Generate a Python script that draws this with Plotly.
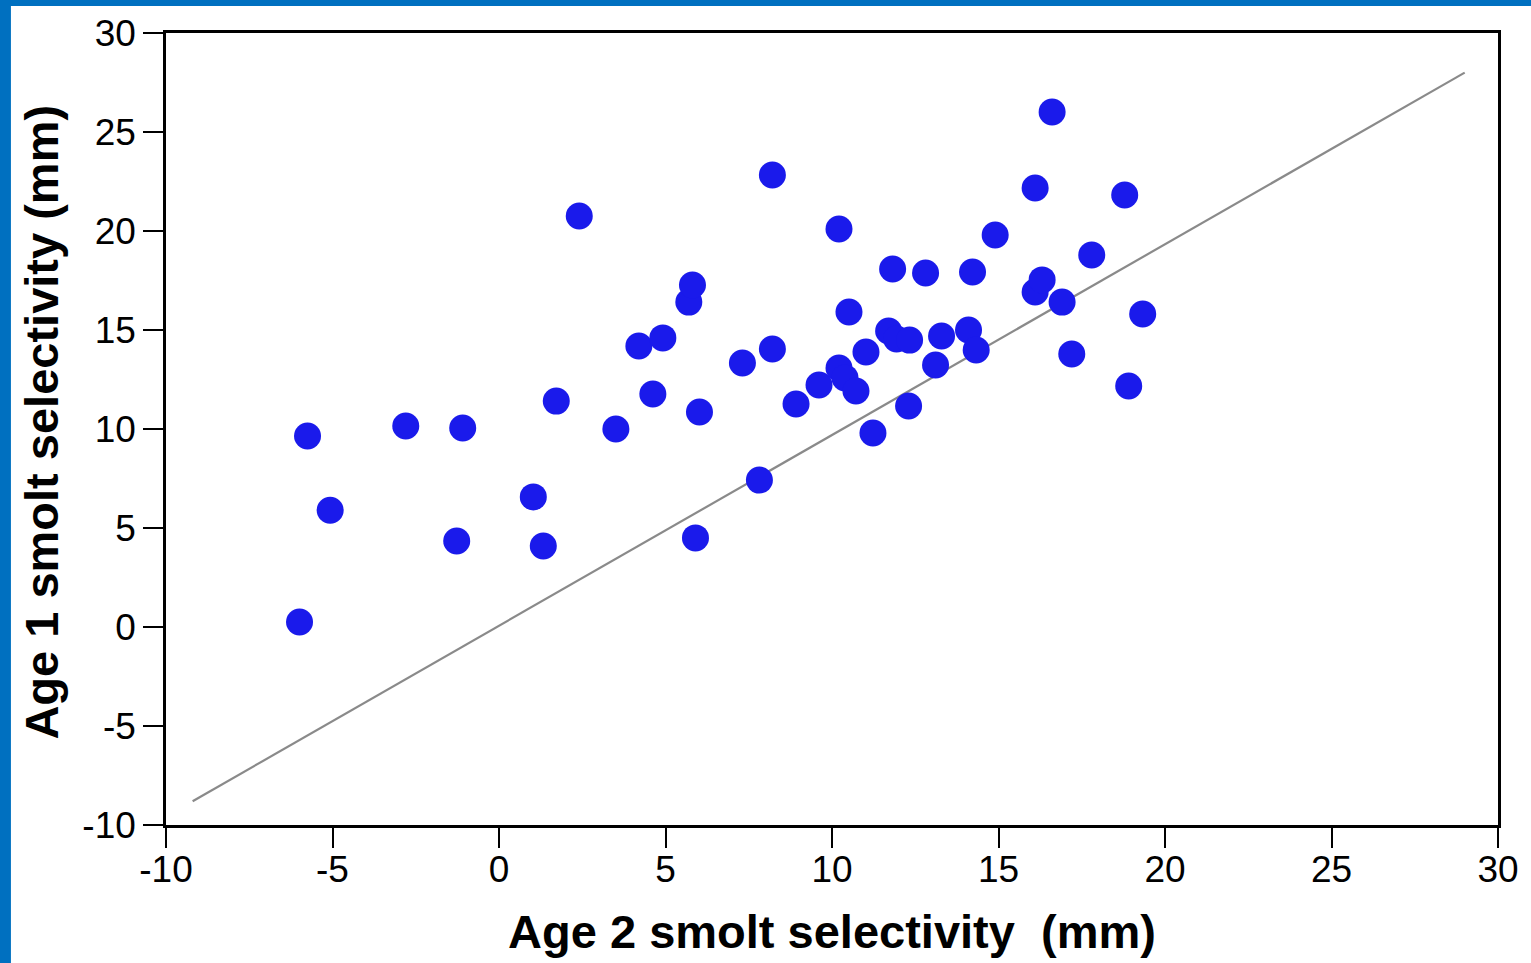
import plotly.graph_objects as go

# Age 2 smolt selectivity (mm)
age2 = [-5.99, -5.75, -5.07, -2.80, -1.27, -1.09, 1.03, 1.33, 1.72, 2.41,
        3.51, 4.20, 4.62, 4.92, 5.70, 5.81, 5.90, 6.02, 7.31, 7.82,
        8.21, 8.21, 8.92, 9.61, 10.21, 10.21, 10.39, 10.51, 10.72, 11.02,
        11.23, 11.70, 11.82, 11.94, 12.30, 12.33, 12.81, 13.11, 13.29, 14.10,
        14.22, 14.33, 14.90, 16.10, 16.10, 16.31, 16.61, 16.91, 17.20, 17.80,
        18.79, 18.91, 19.33]
# Age 1 smolt selectivity (mm)
age1 = [0.25, 9.65, 5.90, 10.15, 4.34, 10.05, 6.57, 4.09, 11.41, 20.76,
        10.00, 14.19, 11.77, 14.60, 16.41, 17.27, 4.50, 10.86, 13.33, 7.42,
        14.04, 22.83, 11.26, 12.22, 13.08, 20.10, 12.58, 15.91, 11.92, 13.89,
        9.80, 14.95, 18.08, 14.55, 11.16, 14.49, 17.88, 13.23, 14.70, 15.00,
        17.93, 13.99, 19.80, 16.92, 22.17, 17.53, 26.01, 16.41, 13.79, 18.79,
        21.82, 12.17, 15.81]

# Reference line endpoints
line_x = [-9.2, 29.0]
line_y = [-8.8, 28.0]

x_ticks = [-10, -5, 0, 5, 10, 15, 20, 25, 30]
y_ticks = [-10, -5, 0, 5, 10, 15, 20, 25, 30]

fig = go.Figure()
fig.add_trace(go.Scatter(x=line_x, y=line_y, mode="lines",
                         line=dict(color="#8a8a8a", width=2.2), hoverinfo="skip",
                         showlegend=False))
fig.add_trace(go.Scatter(x=age2, y=age1, mode="markers",
                         marker=dict(size=27, color="#1a1aeb", line=dict(width=0)),
                         showlegend=False))

font_family = "Liberation Sans, Arial, Helvetica, sans-serif"
fig.update_layout(
    width=1531, height=963,
    margin=dict(l=166, r=25, t=33, b=138),
    paper_bgcolor="white", plot_bgcolor="white",
    font=dict(family=font_family, color="black", size=37),
    xaxis=dict(range=[-10, 30], tickvals=x_ticks, ticktext=[str(v) for v in x_ticks],
               showgrid=False, zeroline=False, showline=True, linecolor="black",
               linewidth=2.5, mirror=True, ticks="outside", ticklen=20, tickwidth=2,
               tickcolor="black", tickfont=dict(size=37), ticklabelstandoff=-10,
               title=dict(text="<b>Age 2 smolt selectivity  (mm)</b>",
                          font=dict(size=47), standoff=26)),
    yaxis=dict(range=[-10, 30], tickvals=y_ticks, ticktext=[str(v) for v in y_ticks],
               showgrid=False, zeroline=False, showline=True, linecolor="black",
               linewidth=2.5, mirror=True, ticks="outside", ticklen=20, tickwidth=2,
               tickcolor="black", tickfont=dict(size=37)),
    annotations=[
        dict(text="<b>Age 1 smolt selectivity (mm)</b>", xref="paper", yref="paper",
             x=(41 - 166) / 1340, y=0.509, xanchor="center", yanchor="middle",
             textangle=-90, showarrow=False, font=dict(size=47, color="black")),
    ],
    shapes=[
        dict(type="rect", xref="paper", yref="paper",
             x0=-0.2, x1=(10 - 166) / 1340, y0=-0.3, y1=1.2,
             fillcolor="#0070C0", line=dict(width=0), layer="above"),
        dict(type="rect", xref="paper", yref="paper",
             x0=-0.2, x1=1.1, y0=(825 - 6) / 792, y1=1.2,
             fillcolor="#0070C0", line=dict(width=0), layer="above"),
    ],
)

fig.write_html("out.html", config={"displayModeBar": False},
               post_script="document.body.style.margin='0';document.body.style.overflow='hidden';")
